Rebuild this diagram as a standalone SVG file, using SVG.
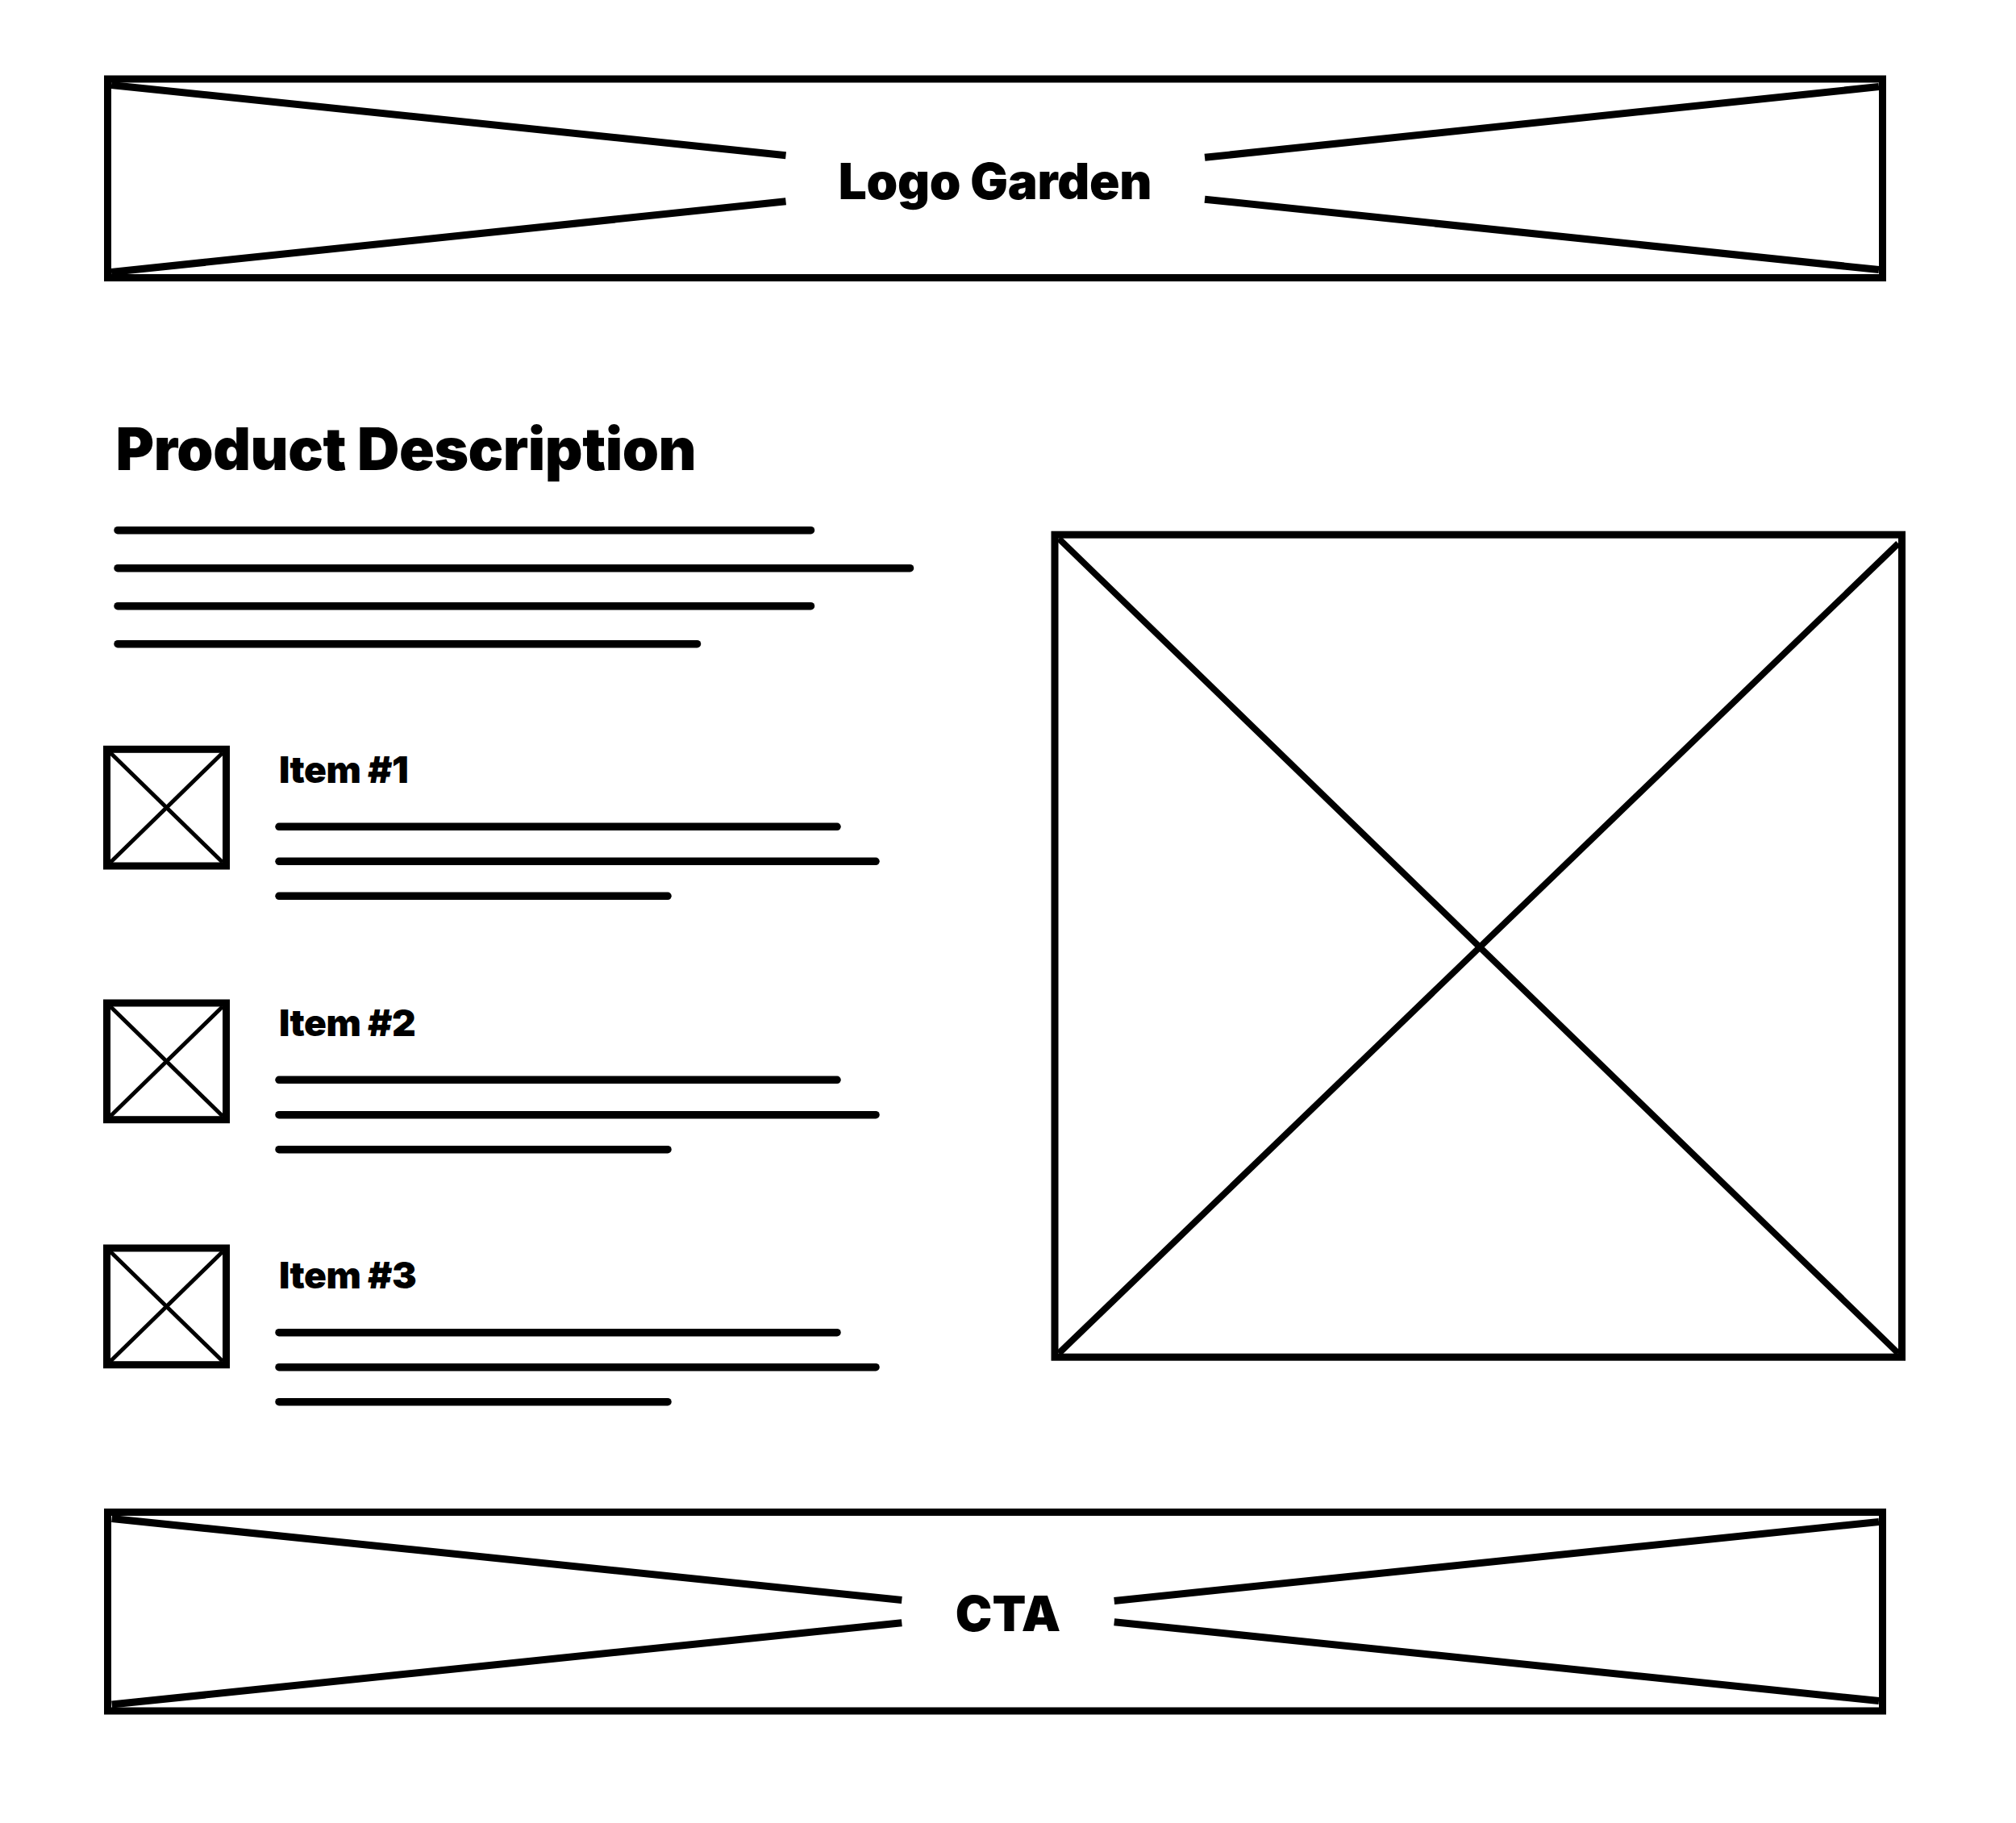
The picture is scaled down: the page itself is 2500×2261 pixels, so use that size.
<svg xmlns="http://www.w3.org/2000/svg" width="2500" height="2261" viewBox="0 0 2500 2261">
<style>
.frame{fill:none;stroke:#000;stroke-width:9}
.diag{fill:none;stroke:#000;stroke-width:9;stroke-linecap:butt}
.xthin{fill:none;stroke:#000;stroke-width:5}
.xbig{fill:none;stroke:#000;stroke-width:8}
.txtline{fill:none;stroke:#000;stroke-width:9.5;stroke-linecap:round}
.lbl{font-family:Inter,"Liberation Sans",sans-serif;font-weight:900;fill:#000}
.item{letter-spacing:-0.5px}
</style>
<rect width="2500" height="2261" fill="#fff"/>
<g id="header">
<rect class="frame" x="133.5" y="98" width="2201" height="246.5"/>
<line class="diag" x1="138" y1="105.5" x2="974.5" y2="192.7"/>
<line class="diag" x1="138" y1="337.5" x2="974.5" y2="249.8"/>
<line class="diag" x1="1494" y1="247.2" x2="2330" y2="334.5"/>
<line class="diag" x1="1494" y1="195.3" x2="2330" y2="107.5"/>
<text class="lbl" x="1234" y="246.7" font-size="62" text-anchor="middle" letter-spacing="-0.3">Logo Garden</text>
</g>
<g id="product-description">
<text class="lbl" x="143.5" y="583.3" font-size="72.5" letter-spacing="-0.45">Product Description</text>
<line class="txtline" x1="146" y1="657.7" x2="1005.5" y2="657.7"/>
<line class="txtline" x1="146" y1="704.7" x2="1128.5" y2="704.7"/>
<line class="txtline" x1="146" y1="751.7" x2="1005.5" y2="751.7"/>
<line class="txtline" x1="146" y1="798.7" x2="864.5" y2="798.7"/>
</g>
<g id="item-1">
<rect class="frame" x="132.5" y="929.3" width="148" height="144.7"/>
<line class="xthin" x1="137" y1="933.8" x2="276" y2="1069.5"/>
<line class="xthin" x1="276" y1="933.8" x2="137" y2="1069.5"/>
<text class="lbl item" x="346" y="970.7" font-size="46">Item #1</text>
<line class="txtline" x1="346" y1="1025.3" x2="1038" y2="1025.3"/>
<line class="txtline" x1="346" y1="1068.3" x2="1086" y2="1068.3"/>
<line class="txtline" x1="346" y1="1111.3" x2="828" y2="1111.3"/>
</g>
<g id="item-2">
<rect class="frame" x="132.5" y="1244" width="148" height="144.7"/>
<line class="xthin" x1="137" y1="1248.5" x2="276" y2="1384.2"/>
<line class="xthin" x1="276" y1="1248.5" x2="137" y2="1384.2"/>
<text class="lbl item" x="346" y="1285.3" font-size="46">Item #2</text>
<line class="txtline" x1="346" y1="1339.3" x2="1038" y2="1339.3"/>
<line class="txtline" x1="346" y1="1382.7" x2="1086" y2="1382.7"/>
<line class="txtline" x1="346" y1="1425.7" x2="828" y2="1425.7"/>
</g>
<g id="item-3">
<rect class="frame" x="132.5" y="1548" width="148" height="144.7"/>
<line class="xthin" x1="137" y1="1552.5" x2="276" y2="1688.2"/>
<line class="xthin" x1="276" y1="1552.5" x2="137" y2="1688.2"/>
<text class="lbl item" x="346" y="1598.3" font-size="46">Item #3</text>
<line class="txtline" x1="346" y1="1652.7" x2="1038" y2="1652.7"/>
<line class="txtline" x1="346" y1="1695.7" x2="1086" y2="1695.7"/>
<line class="txtline" x1="346" y1="1738.7" x2="828" y2="1738.7"/>
</g>
<g id="product-image">
<rect class="frame" x="1308" y="663.2" width="1050.5" height="1020"/>
<line class="xbig" x1="1313" y1="668" x2="2354" y2="1678.5"/>
<line class="xbig" x1="2354" y1="674" x2="1313" y2="1678.5"/>
</g>
<g id="cta">
<rect class="frame" x="133.5" y="1875.5" width="2201" height="246.5"/>
<line class="diag" x1="138.6" y1="1883.5" x2="1118.3" y2="1984.5"/>
<line class="diag" x1="138.6" y1="2114" x2="1118.3" y2="2012.7"/>
<line class="diag" x1="1381.7" y1="2011.7" x2="2330" y2="2109.5"/>
<line class="diag" x1="1381.7" y1="1985.5" x2="2330" y2="1887.4"/>
<text class="lbl" x="1250" y="2023.3" font-size="61" text-anchor="middle">CTA</text>
</g>
</svg>
